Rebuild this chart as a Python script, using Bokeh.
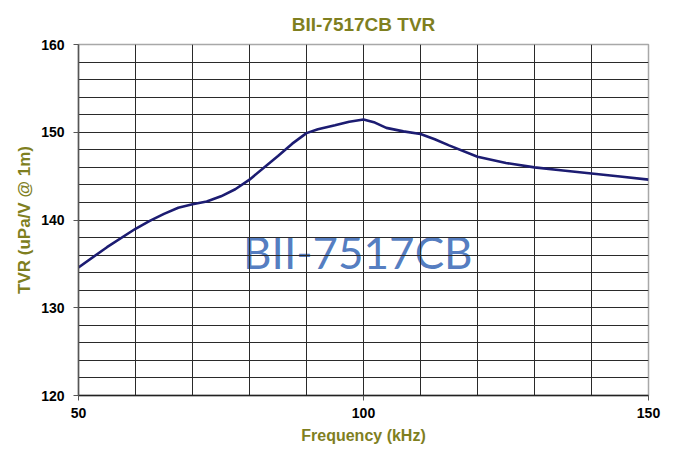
from bokeh.plotting import figure
from bokeh.models import FixedTicker, Label
from bokeh.embed import file_html
from bokeh.resources import INLINE

# Data
freq_khz = [50, 55, 60, 62.5, 65, 67.5, 70, 72.5, 75, 77.5, 80, 85, 87.5, 90, 92, 95, 97.5, 100,
            102, 104, 107, 110, 112.5, 115, 120, 125, 130, 135, 140, 145, 150]
tvr_db = [134.6, 136.9, 139.0, 139.9, 140.7, 141.4, 141.8, 142.1, 142.7, 143.5, 144.6, 147.3, 148.7,
          149.9, 150.35, 150.8, 151.2, 151.45, 151.1, 150.5, 150.1, 149.8, 149.2, 148.5, 147.2,
          146.5, 146.0, 145.65, 145.3, 144.95, 144.6]

x_ticks = [50, 100, 150]
y_ticks = [120, 130, 140, 150, 160]
x_grid = [60, 70, 80, 90, 100, 110, 120, 130, 140]
y_grid = list(range(122, 160, 2))

title_text = "BII-7517CB TVR"
x_label = "Frequency (kHz)"
y_label = "TVR (uPa/V @ 1m)"
watermark_text = "BII-7517CB"

OLIVE = "#7f7f1f"

p = figure(width=673, height=449, x_range=(50, 150), y_range=(120, 160),
           output_backend="svg", toolbar_location=None,
           min_border_left=78, min_border_right=25, min_border_top=44, min_border_bottom=54,
           title=title_text)

p.title.align = "center"
p.title.text_font = "Liberation Sans"
p.title.text_font_size = "19px"
p.title.text_font_style = "bold"
p.title.text_color = OLIVE
p.title.standoff = 19

p.outline_line_color = "#a8a8a8"
p.outline_line_width = 1.5
p.background_fill_color = "white"
p.border_fill_color = "white"

# grids
p.xgrid.ticker = FixedTicker(ticks=x_grid)
p.ygrid.ticker = FixedTicker(ticks=y_grid)
for g in (p.xgrid, p.ygrid):
    g.grid_line_color = "#2a2a2a"
    g.grid_line_width = 1

# axes
p.xaxis.ticker = FixedTicker(ticks=x_ticks)
p.yaxis.ticker = FixedTicker(ticks=y_ticks)
for ax in (p.xaxis, p.yaxis):
    ax.major_label_text_font = "Liberation Sans"
    ax.major_label_text_font_size = "14px"
    ax.major_label_text_font_style = "bold"
    ax.major_label_text_color = "black"
    ax.axis_label_text_font = "Liberation Sans"
    ax.axis_label_text_font_style = "bold"
    ax.axis_label_text_color = OLIVE
    ax.minor_tick_line_color = None
    ax.major_tick_in = 0
    ax.major_tick_out = 5
    ax.major_tick_line_color = "#555555"
    ax.axis_line_width = 1.5

p.xaxis.axis_label = x_label
p.yaxis.axis_label = y_label
p.xaxis.axis_label_text_font_size = "16px"
p.yaxis.axis_label_text_font_size = "17px"
p.xaxis.axis_line_color = "#222222"
p.yaxis.axis_line_color = "#555555"
p.xaxis.major_label_standoff = 7
p.xaxis.axis_label_standoff = 6
p.yaxis.major_label_standoff = 9
p.yaxis.axis_label_standoff = 4

# watermark under the grid
wm = Label(x=99.0, y=136.3, text=watermark_text, text_align="center", text_baseline="alphabetic",
           text_font="Lato", text_font_size="44px", text_color="#4b76bd", text_alpha=0.95,
           level="image")
p.add_layout(wm)

p.line(freq_khz, tvr_db, line_color="#1c1c72", line_width=2.6)

open("out.html", "w").write(file_html(p, INLINE))
